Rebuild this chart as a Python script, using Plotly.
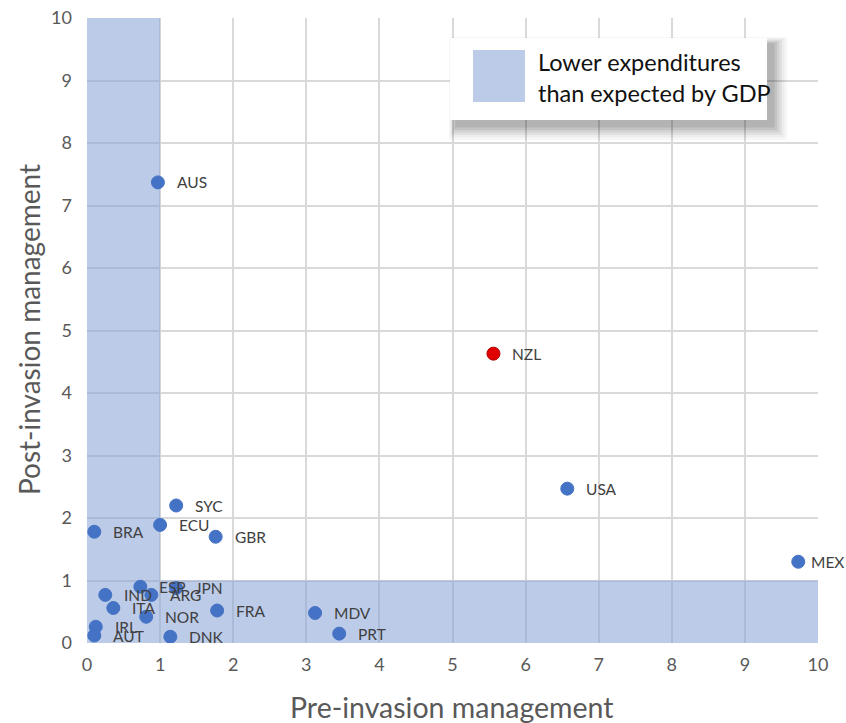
import plotly.graph_objects as go

countries = ["AUS", "NZL", "USA", "MEX", "SYC", "ECU", "BRA", "GBR", "ESP", "ARG", "JPN",
             "IND", "ITA", "NOR", "FRA", "IRL", "AUT", "DNK", "MDV", "PRT"]
pre = [0.97, 5.56, 6.57, 9.73, 1.22, 1.00, 0.10, 1.76, 0.73, 0.88, 1.22,
       0.25, 0.36, 0.81, 1.78, 0.12, 0.10, 1.14, 3.12, 3.45]
post = [7.37, 4.63, 2.47, 1.30, 2.20, 1.89, 1.78, 1.70, 0.90, 0.77, 0.88,
        0.77, 0.56, 0.42, 0.52, 0.26, 0.12, 0.10, 0.48, 0.15]
highlight = "NZL"
ticks = list(range(0, 11))
legend_text = "Lower expenditures<br>than expected by GDP"
x_title = "Pre-invasion management"
y_title = "Post-invasion management"

FONT = "Lato, 'Open Sans', sans-serif"
BLUE = "#4472C4"
RED = "#E00000"
SHADE = "rgba(133,160,213,0.55)"

colors = [RED if c == highlight else BLUE for c in countries]
lines = ["#B00000" if c == highlight else BLUE for c in countries]

fig = go.Figure()
fig.add_trace(go.Scatter(
    x=pre, y=post, mode="markers",
    marker=dict(size=13, color=colors, line=dict(color=lines, width=1)),
    hoverinfo="text", text=countries, showlegend=False,
))

# shaded regions (low expenditure)
fig.add_shape(type="rect", xref="x", yref="y", x0=0, x1=1, y0=0, y1=10,
              fillcolor=SHADE, line=dict(width=0), layer="between")
fig.add_shape(type="rect", xref="x", yref="y", x0=1, x1=10, y0=0, y1=1,
              fillcolor=SHADE, line=dict(width=0), layer="between")

# labels
for c, xv, yv in zip(countries, pre, post):
    shift = 11 if xv > 9.5 else 17
    fig.add_annotation(x=xv, y=yv, xref="x", yref="y", text=c, showarrow=False,
                       xanchor="left", yanchor="middle", xshift=shift,
                       font=dict(family=FONT, size=15.5, color="#404040"))

# legend box with shadow (paper coords)
W, H = 846, 723
def px(x):
    return (x - 87) / (818 - 87)
def py(y):
    return (643 - y) / (643 - 18)

for i, op in enumerate([0.03, 0.04, 0.05, 0.06, 0.07, 0.08]):
    d = 14 - i * 2.5
    fig.add_shape(type="rect", xref="paper", yref="paper",
                  x0=px(450 + 6 - d / 2), x1=px(767 + 6 + d), y0=py(120 + 6 + d), y1=py(38 + 6 - d / 2),
                  fillcolor=f"rgba(0,0,0,{op})", line=dict(width=0), layer="above")
fig.add_shape(type="rect", xref="paper", yref="paper",
              x0=px(450), x1=px(767), y0=py(120), y1=py(38),
              fillcolor="white", line=dict(width=0), layer="above")
fig.add_shape(type="rect", xref="paper", yref="paper",
              x0=px(473), x1=px(525), y0=py(102), y1=py(50),
              fillcolor="#BCCBE8", line=dict(width=0), layer="above")
fig.add_annotation(xref="paper", yref="paper", x=px(536), y=py(77), text=legend_text,
                   showarrow=False, xanchor="left", yanchor="middle", align="left",
                   font=dict(family=FONT, size=23.5, color="#111111"))

# axis titles
fig.add_annotation(xref="paper", yref="paper", x=px(452), y=py(707), text=x_title,
                   showarrow=False, xanchor="center", yanchor="middle",
                   font=dict(family=FONT, size=28.5, color="#595959"))
fig.add_annotation(xref="paper", yref="paper", x=px(29), y=py(330), text=y_title,
                   showarrow=False, xanchor="center", yanchor="middle", textangle=-90,
                   font=dict(family=FONT, size=28, color="#595959"))

axis_common = dict(
    range=[0, 10], tickvals=ticks, ticktext=[str(t) for t in ticks],
    showgrid=True, gridcolor="#D9D9D9", gridwidth=1.5,
    zeroline=False, showline=False, ticks="",
    tickfont=dict(family=FONT, size=18, color="#595959"),
    fixedrange=True,
)
fig.update_xaxes(**axis_common, ticklabelstandoff=9)
fig.update_yaxes(**axis_common, ticklabelstandoff=14)

fig.update_layout(
    width=W, height=H,
    margin=dict(l=87, r=28, t=18, b=80, autoexpand=False),
    plot_bgcolor="white", paper_bgcolor="white",
    font=dict(family=FONT),
    showlegend=False,
)

fig.write_html("out.html", config={"displayModeBar": False},
               post_script="document.body.style.margin='0';")
